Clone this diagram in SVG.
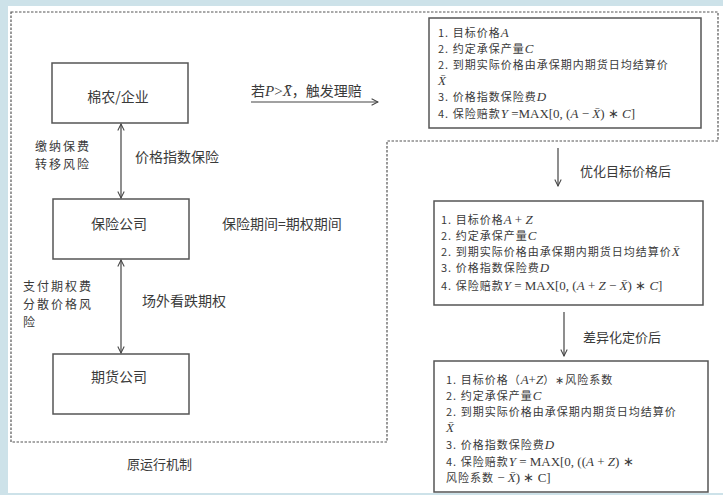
<svg xmlns="http://www.w3.org/2000/svg" width="723" height="495" viewBox="0 0 723 495">
<defs>
<style>
.t{font-family:"Noto Sans CJK SC","Noto Sans",sans-serif;fill:#3a3a3a}
.s14{font-size:14px}
.s13{font-size:13px}
.st{font-size:12px;letter-spacing:2px}
.s12{font-size:11px;letter-spacing:1px}
.m{font-family:"Liberation Serif",serif;font-style:italic;font-size:13px;letter-spacing:0}
.r{font-family:"Liberation Serif",serif;font-size:13px;letter-spacing:0}
.box{fill:#fff;stroke:#555;stroke-width:1.5}
.dash{fill:none;stroke:#555;stroke-width:1.2;stroke-dasharray:2.5 1.5}
.ln{fill:none;stroke:#444;stroke-width:1.2}
</style>
<marker id="ah" viewBox="0 0 10 10" refX="9" refY="5" markerWidth="8" markerHeight="8" orient="auto-start-reverse" markerUnits="userSpaceOnUse">
<path d="M1,1 L9,5 L1,9" fill="none" stroke="#444" stroke-width="1.3"/>
</marker>
</defs>
<rect x="0" y="0" width="723" height="495" fill="#cde2e9"/>
<rect x="8" y="6" width="715" height="487" fill="#fff"/>
<path class="dash" d="M11,12 H718 V141 H387 V442 H11 Z"/>

<g id="node-cotton">
<rect class="box" x="52" y="63" width="136" height="60"/>
<text class="t s14" x="118" y="102" text-anchor="middle">棉农/企业</text>
</g>
<g id="node-insurer">
<rect class="box" x="53" y="199" width="136" height="60"/>
<text class="t s14" x="119" y="229" text-anchor="middle">保险公司</text>
</g>
<g id="node-futures">
<rect class="box" x="53" y="354" width="136" height="60"/>
<text class="t s14" x="119" y="382" text-anchor="middle">期货公司</text>
</g>

<g id="box-original">
<rect class="box" x="429" y="18" width="272" height="110"/>
<text class="t s12" x="438" y="37">1. 目标价格<tspan class="m">A</tspan></text>
<text class="t s12" x="438" y="53">2. 约定承保产量<tspan class="m">C</tspan></text>
<text class="t s12" x="438" y="69">2. 到期实际价格由承保期内期货日均结算价</text>
<text class="t s12" x="438" y="85"><tspan class="m">X̄</tspan></text>
<text class="t s12" x="438" y="101">3. 价格指数保险费<tspan class="m">D</tspan></text>
<text class="t s12" x="438" y="118">4. 保险赔款<tspan class="m">Y</tspan><tspan class="r"> =MAX[0, (</tspan><tspan class="m">A</tspan><tspan class="r"> − </tspan><tspan class="m">X̄</tspan><tspan class="r">) ∗ </tspan><tspan class="m">C</tspan><tspan class="r">]</tspan></text>
</g>

<g id="box-optimized">
<rect class="box" x="434" y="201" width="269" height="104"/>
<text class="t s12" x="441" y="224">1. 目标价格<tspan class="m">A</tspan><tspan class="r"> + </tspan><tspan class="m">Z</tspan></text>
<text class="t s12" x="441" y="240">2. 约定承保产量<tspan class="m">C</tspan></text>
<text class="t s12" x="441" y="256">2. 到期实际价格由承保期内期货日均结算价<tspan class="m">X̄</tspan></text>
<text class="t s12" x="441" y="272">3. 价格指数保险费<tspan class="m">D</tspan></text>
<text class="t s12" x="441" y="290">4. 保险赔款<tspan class="m">Y</tspan><tspan class="r"> = MAX[0, (</tspan><tspan class="m">A</tspan><tspan class="r"> + </tspan><tspan class="m">Z</tspan><tspan class="r"> − </tspan><tspan class="m">X̄</tspan><tspan class="r">) ∗ </tspan><tspan class="m">C</tspan><tspan class="r">]</tspan></text>
</g>

<g id="box-differentiated">
<rect class="box" x="434" y="361" width="274" height="131"/>
<text class="t s12" x="446" y="384">1. 目标价格（<tspan class="m">A</tspan><tspan class="r">+</tspan><tspan class="m">Z</tspan>）∗风险系数</text>
<text class="t s12" x="446" y="400">2. 约定承保产量<tspan class="m">C</tspan></text>
<text class="t s12" x="446" y="416">2. 到期实际价格由承保期内期货日均结算价</text>
<text class="t s12" x="446" y="432"><tspan class="m">X̄</tspan></text>
<text class="t s12" x="446" y="449">3. 价格指数保险费<tspan class="m">D</tspan></text>
<text class="t s12" x="446" y="466">4. 保险赔款<tspan class="m">Y</tspan><tspan class="r"> = MAX[0, ((</tspan><tspan class="m">A</tspan><tspan class="r"> + </tspan><tspan class="m">Z</tspan><tspan class="r">) ∗</tspan></text>
<text class="t s12" x="446" y="482">风险系数<tspan class="r"> − </tspan><tspan class="m">X̄</tspan><tspan class="r">) ∗ C]</tspan></text>
</g>

<g id="connectors">
<line class="ln" x1="121" y1="124" x2="121" y2="198" marker-start="url(#ah)" marker-end="url(#ah)"/>
<line class="ln" x1="121" y1="260" x2="121" y2="353" marker-start="url(#ah)" marker-end="url(#ah)"/>
<line class="ln" x1="251" y1="102" x2="378" y2="102" marker-end="url(#ah)"/>
<line class="ln" x1="558" y1="148" x2="558" y2="186" marker-end="url(#ah)"/>
<line class="ln" x1="564" y1="312" x2="564" y2="356" marker-end="url(#ah)"/>
</g>

<g id="labels">
<text class="t st" x="35" y="151">缴纳保费</text>
<text class="t st" x="35" y="169">转移风险</text>
<text class="t s14" x="135" y="162">价格指数保险</text>
<text class="t s14" x="222" y="229">保险期间=期权期间</text>
<text class="t st" x="23" y="291">支付期权费</text>
<text class="t st" x="23" y="309">分散价格风</text>
<text class="t st" x="23" y="327">险</text>
<text class="t s14" x="142" y="306">场外看跌期权</text>
<text class="t s13" x="127" y="469">原运行机制</text>
<text class="t s14" x="251" y="96">若<tspan class="m" style="font-size:15px">P</tspan><tspan class="r" style="font-size:15px">&gt;</tspan><tspan class="m" style="font-size:15px">X̄</tspan>，触发理赔</text>
<text class="t s13" x="580" y="176">优化目标价格后</text>
<text class="t s13" x="583" y="342">差异化定价后</text>
</g>
</svg>
